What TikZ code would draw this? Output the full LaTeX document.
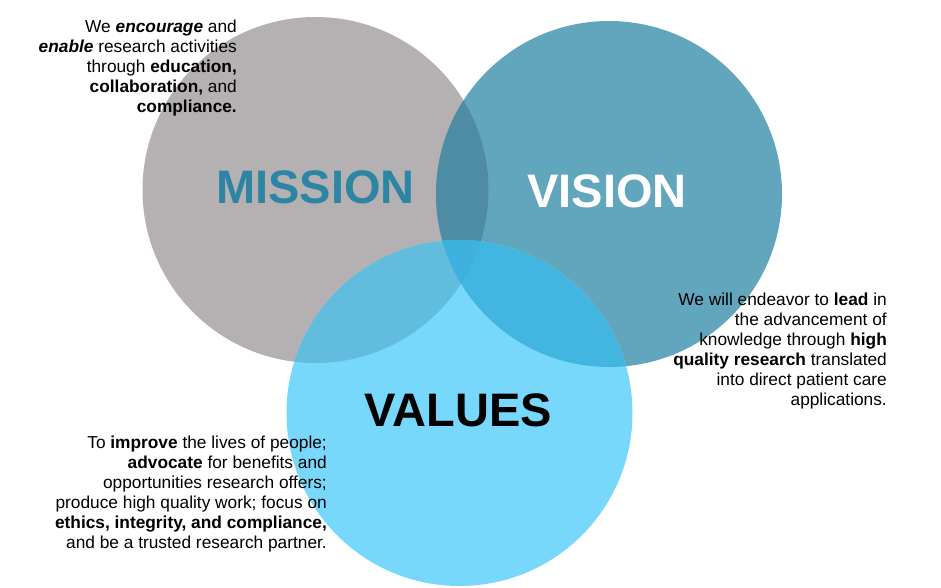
\documentclass[tikz,border=0pt]{standalone}
\usepackage{fontspec}
\setmainfont{Liberation Sans}
\usepackage{xcolor}
\usepackage{tikz}
\definecolor{mgray}{HTML}{B5B1B3}
\definecolor{vteal}{HTML}{62A6BE}
\definecolor{valblue}{HTML}{77D8FC}
\definecolor{mvteal}{HTML}{4E8CA3}
\definecolor{mvalblue}{HTML}{61BCDD}
\definecolor{vvalblue}{HTML}{42B5E0}
\definecolor{allblue}{HTML}{3EB1DE}
\definecolor{mtext}{HTML}{2B85A3}

\begin{document}
\begin{tikzpicture}[x=1pt, y=-1pt,
  title/.style={inner sep=0pt, font=\fontsize{47}{47}\selectfont\bfseries},
  blurb/.style={inner sep=0pt, anchor=north east, align=right, font=\fontsize{17.3}{20}\selectfont}
]
  \useasboundingbox (0,0) rectangle (941,588);
  \def\mcirc{(315.5,190) circle[radius=173pt]}
  \def\vcirc{(609,194) circle[radius=173pt]}
  \def\valcirc{(459.5,413) circle[radius=173pt]}

  % the three circles
  \fill[mgray] \mcirc;
  \fill[vteal] \vcirc;
  \fill[valblue] \valcirc;

  % overlaps
  \begin{scope}
    \clip \mcirc;
    \fill[mvteal] \vcirc;
    \fill[mvalblue] \valcirc;
  \end{scope}
  \begin{scope}
    \clip \vcirc;
    \fill[vvalblue] \valcirc;
    \clip \mcirc;
    \fill[allblue] \valcirc;
  \end{scope}

  \node[title, text=mtext] (mission) at (315.5,187) {MISSION};
  \node[title, text=white] (vision) at (607,191) {VISION};
  \node[title, text=black] (values) at (458.5,410.5) {VALUES};

  \node[blurb] (missiontxt) at (237,20) {We \textbf{\textit{encourage}} and\\
    \textbf{\textit{enable}} research activities\\
    through \textbf{education,}\\
    \textbf{collaboration,} and\\
    \textbf{compliance.}};
  \node[blurb] (visiontxt) at (887,293) {We will endeavor to \textbf{lead} in\\
    the advancement of\\
    knowledge through \textbf{high}\\
    \textbf{quality research} translated\\
    into direct patient care\\
    applications.};
  \node[blurb] (valuestxt) at (327,435.5) {To \textbf{improve} the lives of people;\\
    \textbf{advocate} for benefits and\\
    opportunities research offers;\\
    produce high quality work; focus on\\
    \textbf{ethics, integrity, and compliance,}\\
    and be a trusted research partner.};
\end{tikzpicture}
\end{document}
